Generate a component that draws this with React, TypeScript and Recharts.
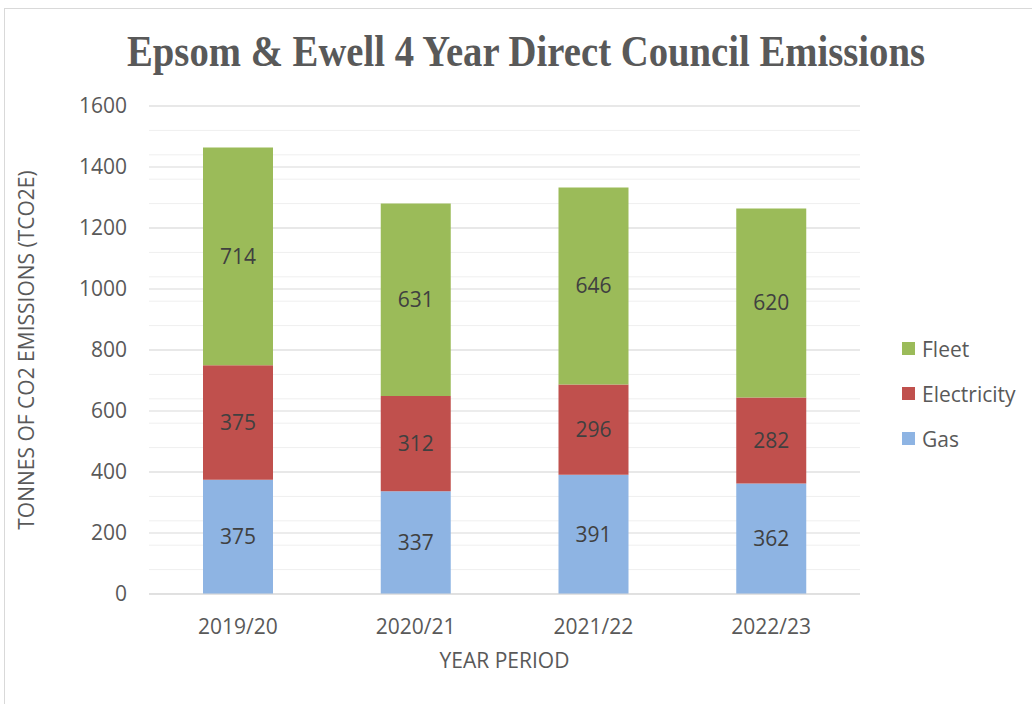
import { BarChart, Bar, XAxis, YAxis, CartesianGrid, LabelList } from 'recharts'

const years = ['2019/20', '2020/21', '2021/22', '2022/23']
const gas = [375, 337, 391, 362]
const electricity = [375, 312, 296, 282]
const fleet = [714, 631, 646, 620]
const yTicks = [0, 200, 400, 600, 800, 1000, 1200, 1400, 1600]

const chartData = years.map((year, i) => ({
  year,
  gas: gas[i],
  electricity: electricity[i],
  fleet: fleet[i]
}))

const minorTicks: number[] = []
for (let v = 0; v <= 1600; v += 40) minorTicks.push(v)

const FONT = '"Open Sans", Lato, sans-serif'
const TEXT = '#595959'

const legendItems = [
  { name: 'Fleet', color: '#9BBB59' },
  { name: 'Electricity', color: '#C0504D' },
  { name: 'Gas', color: '#8EB4E3' }
]

function ChartLegend() {
  return (
    <div style={{ position: 'absolute', left: 902, top: 326, fontFamily: FONT, fontSize: 21, color: TEXT }}>
      {legendItems.map(item => (
        <div key={item.name} style={{ display: 'flex', alignItems: 'center', height: 45 }}>
          <span style={{ width: 13, height: 13, background: item.color, marginRight: 7 }} />
          {item.name}
        </div>
      ))}
    </div>
  )
}

export default function App() {
  return (
    <div style={{ position: 'fixed', left: 0, top: 0, width: 1032, height: 704, background: '#fff', overflow: 'hidden' }}>
      <div style={{ position: 'absolute', left: 4, top: 8, width: 1040, height: 710, border: '1px solid #d9d9d9' }} />
      <div style={{ position: 'absolute', left: 0, top: 0 }}>
        <BarChart
          width={1032}
          height={704}
          data={chartData}
          margin={{ top: 106, right: 172, bottom: 30, left: 0 }}
          barSize={70}
        >
          <CartesianGrid vertical={false} horizontalValues={minorTicks} stroke="#efefef" />
          <CartesianGrid vertical={false} horizontalValues={yTicks} stroke="#d9d9d9" />
          <XAxis
            dataKey="year"
            axisLine={{ stroke: '#d9d9d9' }}
            tickLine={false}
            tick={{ fill: TEXT, fontSize: 21, fontFamily: FONT }}
            tickMargin={19}
            height={80}
            label={{ value: 'YEAR PERIOD', position: 'insideBottom', offset: 6, fill: TEXT, fontSize: 21, fontFamily: FONT }}
          />
          <YAxis
            domain={[0, 1600]}
            ticks={yTicks}
            width={149}
            axisLine={false}
            tickLine={false}
            tick={{ fill: TEXT, fontSize: 21, fontFamily: FONT }}
            tickMargin={16}
            label={{
              value: 'TONNES OF CO2 EMISSIONS (TCO2E)',
              angle: -90,
              position: 'insideLeft',
              offset: 27,
              style: { textAnchor: 'middle' },
              fill: TEXT,
              fontSize: 21,
              fontFamily: FONT
            }}
          />
          <Bar dataKey="gas" stackId="a" fill="#8EB4E3" isAnimationActive={false}>
            <LabelList dataKey="gas" position="center" fill="#404040" fontSize={21} fontFamily={FONT} />
          </Bar>
          <Bar dataKey="electricity" stackId="a" fill="#C0504D" isAnimationActive={false}>
            <LabelList dataKey="electricity" position="center" fill="#404040" fontSize={21} fontFamily={FONT} />
          </Bar>
          <Bar dataKey="fleet" stackId="a" fill="#9BBB59" isAnimationActive={false}>
            <LabelList dataKey="fleet" position="center" fill="#404040" fontSize={21} fontFamily={FONT} />
          </Bar>
        </BarChart>
      </div>
      <ChartLegend />
      <svg width={1032} height={120} style={{ position: 'absolute', left: 0, top: 0 }}>
        <g transform="translate(526,66) scale(1,1.25)">
          <text
            x={0}
            y={0}
            textAnchor="middle"
            textLength={798}
            lengthAdjust="spacingAndGlyphs"
            fill={TEXT}
            fontFamily='"Liberation Serif", serif'
            fontWeight="bold"
            fontSize={35}
          >
            Epsom &amp; Ewell 4 Year Direct Council Emissions
          </text>
        </g>
      </svg>
    </div>
  )
}
